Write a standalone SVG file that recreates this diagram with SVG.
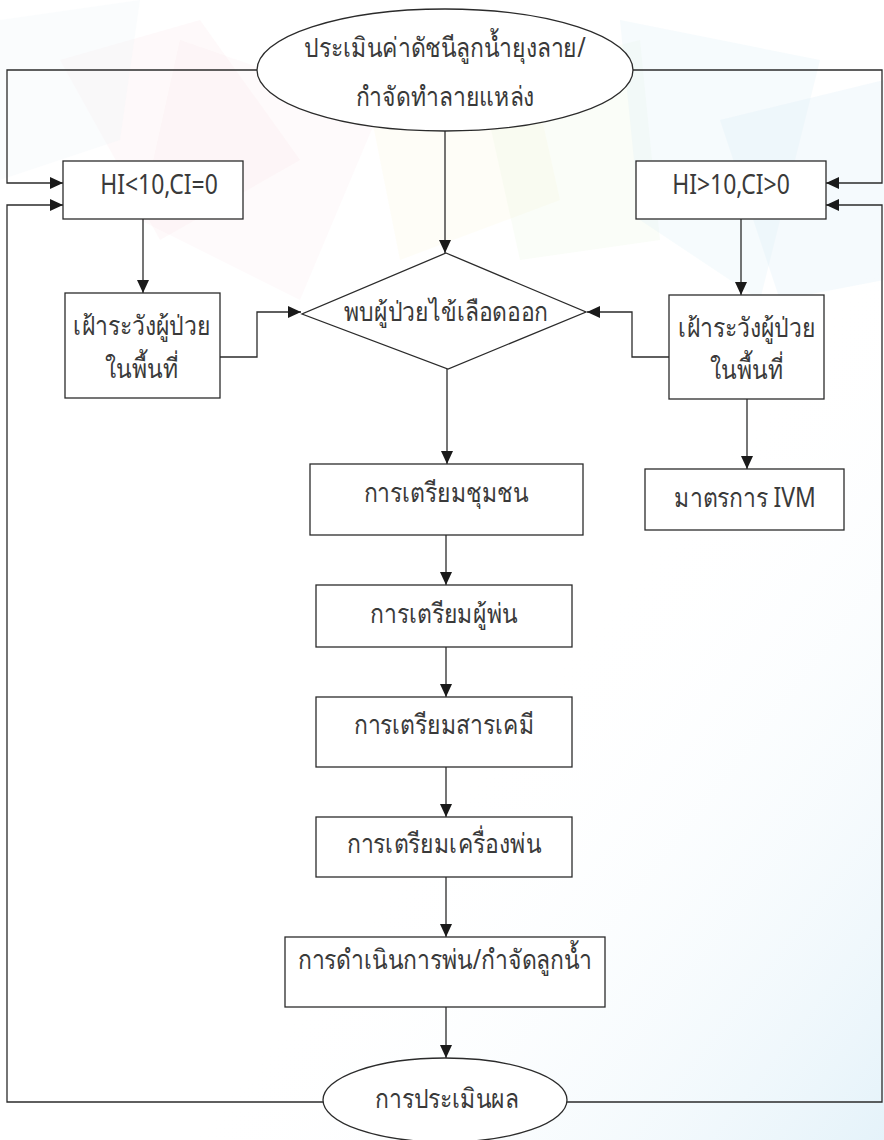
<svg xmlns="http://www.w3.org/2000/svg" width="884" height="1140" viewBox="0 0 884 1140">
<style>
.shape{fill:#ffffff;stroke:#2b2b2b;stroke-width:1.3}
.conn{fill:none;stroke:#2b2b2b;stroke-width:1.3}
.t{font-family:"Noto Sans","DejaVu Sans",sans-serif;font-size:27px;font-weight:400;fill:#3a3a3a;text-anchor:middle}
</style>
<defs>
<marker id="ah" markerUnits="userSpaceOnUse" markerWidth="14" markerHeight="12" refX="13" refY="6" orient="auto">
<path d="M0,0 L13,6 L0,12 z" fill="#1a1a1a"/>
</marker>
<linearGradient id="bgb" x1="0" y1="0" x2="1" y2="1">
<stop offset="0.6" stop-color="#ffffff" stop-opacity="0"/>
<stop offset="1" stop-color="#d3eaf6" stop-opacity="0.6"/>
</linearGradient>
</defs>
<g id="background">
<rect x="0" y="0" width="884" height="1140" fill="#ffffff"/>
<rect x="0" y="0" width="884" height="1140" fill="url(#bgb)"/>
<polygon points="60,60 200,20 300,160 160,240" fill="#f8d7e0" opacity="0.15"/>
<polygon points="180,40 380,110 300,300 140,220" fill="#fbe3ea" opacity="0.18"/>
<polygon points="360,60 520,20 560,200 400,260" fill="#fbf3d6" opacity="0.2"/>
<polygon points="480,80 640,40 660,240 520,260" fill="#e6f4dc" opacity="0.2"/>
<polygon points="620,20 820,60 760,300 640,220" fill="#dcf0f8" opacity="0.25"/>
<polygon points="720,120 884,80 884,280 780,300" fill="#d6ecf7" opacity="0.25"/>
<polygon points="0,20 140,0 120,140 0,180" fill="#eef4f8" opacity="0.3"/>
</g>
<g id="connectors">
<path class="conn" d="M257,70 H7 V183 H63" marker-end="url(#ah)"/>
<path class="conn" d="M633,70 H882 V183 H826" marker-end="url(#ah)"/>
<path class="conn" d="M323,1102 H7 V205 H63" marker-end="url(#ah)"/>
<path class="conn" d="M567,1102 H882 V205 H826" marker-end="url(#ah)"/>
<path class="conn" d="M445,131 V253" marker-end="url(#ah)"/>
<path class="conn" d="M143,219 V293" marker-end="url(#ah)"/>
<path class="conn" d="M741,219 V295" marker-end="url(#ah)"/>
<path class="conn" d="M220,357 H257 V312 H301" marker-end="url(#ah)"/>
<path class="conn" d="M669,357 H632 V312 H587" marker-end="url(#ah)"/>
<path class="conn" d="M447,369 V464" marker-end="url(#ah)"/>
<path class="conn" d="M747,399 V469" marker-end="url(#ah)"/>
<path class="conn" d="M446,535 V585" marker-end="url(#ah)"/>
<path class="conn" d="M446,647 V697" marker-end="url(#ah)"/>
<path class="conn" d="M446,767 V817" marker-end="url(#ah)"/>
<path class="conn" d="M446,877 V937" marker-end="url(#ah)"/>
<path class="conn" d="M446,1007 V1058" marker-end="url(#ah)"/>
</g>
<g id="n_start">
<ellipse class="shape" cx="445" cy="70" rx="188" ry="61"/>
<text class="t" transform="translate(445,57) scale(0.85,1)">ประเมินค่าดัชนีลูกน้ำยุงลาย/</text>
<text class="t" transform="translate(445,106) scale(0.85,1)">กำจัดทำลายแหล่ง</text>
</g>
<g id="n_hi_low">
<rect class="shape" x="63" y="161" width="180" height="58"/>
<text class="t" transform="translate(159,194) scale(0.85,1)">HI&lt;10,CI=0</text>
</g>
<g id="n_hi_high">
<rect class="shape" x="636" y="161" width="190" height="58"/>
<text class="t" transform="translate(731,194) scale(0.85,1)">HI&gt;10,CI&gt;0</text>
</g>
<g id="n_watch_left">
<rect class="shape" x="65" y="293" width="155" height="105"/>
<text class="t" transform="translate(142,335) scale(0.85,1)">เฝ้าระวังผู้ป่วย</text>
<text class="t" transform="translate(142,378) scale(0.85,1)">ในพื้นที่</text>
</g>
<g id="n_watch_right">
<rect class="shape" x="669" y="295" width="155" height="104"/>
<text class="t" transform="translate(747,337) scale(0.85,1)">เฝ้าระวังผู้ป่วย</text>
<text class="t" transform="translate(747,379) scale(0.85,1)">ในพื้นที่</text>
</g>
<g id="n_found">
<polygon class="shape" points="446,253 586,312 448,369 302,314"/>
<text class="t" transform="translate(446,321) scale(0.85,1)">พบผู้ป่วยไข้เลือดออก</text>
</g>
<g id="n_ivm">
<rect class="shape" x="645" y="469" width="199" height="61"/>
<text class="t" transform="translate(745,507) scale(0.85,1)">มาตรการ IVM</text>
</g>
<g id="n_community">
<rect class="shape" x="310" y="464" width="273" height="71"/>
<text class="t" transform="translate(446,502) scale(0.85,1)">การเตรียมชุมชน</text>
</g>
<g id="n_sprayer">
<rect class="shape" x="316" y="585" width="256" height="62"/>
<text class="t" transform="translate(444,623) scale(0.85,1)">การเตรียมผู้พ่น</text>
</g>
<g id="n_chemical">
<rect class="shape" x="316" y="697" width="256" height="70"/>
<text class="t" transform="translate(444,734) scale(0.85,1)">การเตรียมสารเคมี</text>
</g>
<g id="n_machine">
<rect class="shape" x="316" y="817" width="256" height="60"/>
<text class="t" transform="translate(444,853) scale(0.85,1)">การเตรียมเครื่องพ่น</text>
</g>
<g id="n_operate">
<rect class="shape" x="285" y="937" width="320" height="70"/>
<text class="t" transform="translate(445,969) scale(0.85,1)">การดำเนินการพ่น/กำจัดลูกน้ำ</text>
</g>
<g id="n_eval">
<ellipse class="shape" cx="445" cy="1100" rx="122" ry="42"/>
<text class="t" transform="translate(447,1108) scale(0.85,1)">การประเมินผล</text>
</g>
</svg>
